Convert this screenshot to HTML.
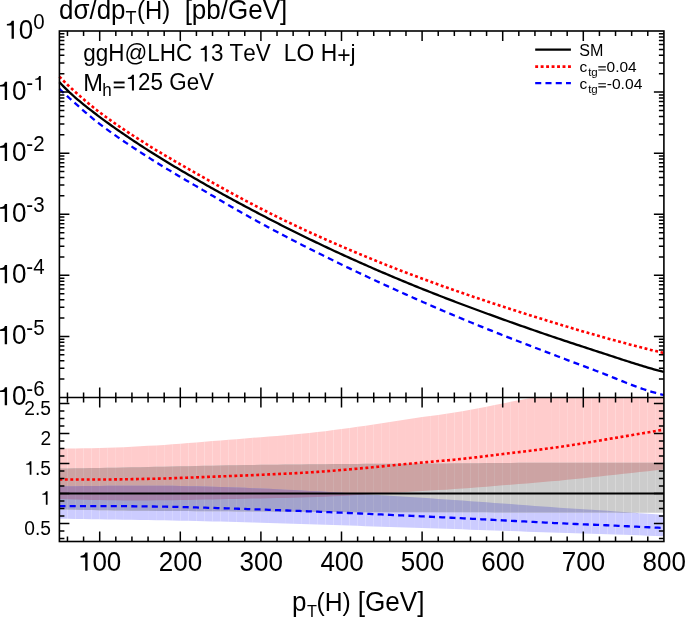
<!DOCTYPE html>
<html><head><meta charset="utf-8"><style>
html,body{margin:0;padding:0;background:#fff;}
body{width:685px;height:617px;overflow:hidden;}
svg{display:block;will-change:transform;}
text{font-family:"Liberation Sans", sans-serif;fill:#000;font-kerning:none;}
</style></head><body>
<svg width="685" height="617" viewBox="0 0 685 617">
<rect width="685" height="617" fill="#fff"/>
<g>
<g fill="#ffcccc"><path d="M59.40 448.67L67.46 448.56L67.46 499.35L59.40 499.12Z"/><path d="M67.46 448.56L75.52 448.44L75.52 499.57L67.46 499.35Z"/><path d="M75.52 448.44L83.58 448.29L83.58 499.76L75.52 499.57Z"/><path d="M83.58 448.29L91.64 448.14L91.64 499.94L83.58 499.76Z"/><path d="M91.64 448.14L99.70 447.96L99.70 500.10L91.64 499.94Z"/><path d="M99.70 447.96L107.76 447.78L107.76 500.23L99.70 500.10Z"/><path d="M107.76 447.78L115.82 447.51L115.82 500.33L107.76 500.23Z"/><path d="M115.82 447.51L123.88 447.17L123.88 500.38L115.82 500.33Z"/><path d="M123.88 447.17L131.94 446.77L131.94 500.41L123.88 500.38Z"/><path d="M131.94 446.77L140.00 446.33L140.00 500.40L131.94 500.41Z"/><path d="M140.00 446.33L148.06 445.87L148.06 500.38L140.00 500.40Z"/><path d="M148.06 445.87L156.12 445.40L156.12 500.35L148.06 500.38Z"/><path d="M156.12 445.40L164.18 444.92L164.18 500.29L156.12 500.35Z"/><path d="M164.18 444.92L172.24 444.36L172.24 500.19L164.18 500.29Z"/><path d="M172.24 444.36L180.30 443.74L180.30 500.06L172.24 500.19Z"/><path d="M180.30 443.74L188.36 443.08L188.36 499.91L180.30 500.06Z"/><path d="M188.36 443.08L196.42 442.41L196.42 499.74L188.36 499.91Z"/><path d="M196.42 442.41L204.48 441.73L204.48 499.58L196.42 499.74Z"/><path d="M204.48 441.73L212.54 441.08L212.54 499.42L204.48 499.58Z"/><path d="M212.54 441.08L220.60 440.43L220.60 499.27L212.54 499.42Z"/><path d="M220.60 440.43L228.66 439.78L228.66 499.10L220.60 499.27Z"/><path d="M228.66 439.78L236.72 439.13L236.72 498.94L228.66 499.10Z"/><path d="M236.72 439.13L244.78 438.48L244.78 498.77L236.72 498.94Z"/><path d="M244.78 438.48L252.84 437.83L252.84 498.59L244.78 498.77Z"/><path d="M252.84 437.83L260.90 437.17L260.90 498.42L252.84 498.59Z"/><path d="M260.90 437.17L268.96 436.53L268.96 498.25L260.90 498.42Z"/><path d="M268.96 436.53L277.02 435.88L277.02 498.08L268.96 498.25Z"/><path d="M277.02 435.88L285.08 435.22L285.08 497.90L277.02 498.08Z"/><path d="M285.08 435.22L293.14 434.52L293.14 497.71L285.08 497.90Z"/><path d="M293.14 434.52L301.20 433.78L301.20 497.50L293.14 497.71Z"/><path d="M301.20 433.78L309.26 432.99L309.26 497.26L301.20 497.50Z"/><path d="M309.26 432.99L317.32 432.11L317.32 496.98L309.26 497.26Z"/><path d="M317.32 432.11L325.38 431.14L325.38 496.65L317.32 496.98Z"/><path d="M325.38 431.14L333.44 430.11L333.44 496.28L325.38 496.65Z"/><path d="M333.44 430.11L341.50 429.03L341.50 495.89L333.44 496.28Z"/><path d="M341.50 429.03L349.56 427.92L349.56 495.46L341.50 495.89Z"/><path d="M349.56 427.92L357.62 426.80L357.62 495.02L349.56 495.46Z"/><path d="M357.62 426.80L365.68 425.65L365.68 494.56L357.62 495.02Z"/><path d="M365.68 425.65L373.74 424.43L373.74 494.06L365.68 494.56Z"/><path d="M373.74 424.43L381.80 423.18L381.80 493.55L373.74 494.06Z"/><path d="M381.80 423.18L389.86 421.92L389.86 493.02L381.80 493.55Z"/><path d="M389.86 421.92L397.92 420.66L397.92 492.49L389.86 493.02Z"/><path d="M397.92 420.66L405.98 419.43L405.98 491.98L397.92 492.49Z"/><path d="M405.98 419.43L414.04 418.25L414.04 491.49L405.98 491.98Z"/><path d="M414.04 418.25L422.10 417.12L422.10 491.03L414.04 491.49Z"/><path d="M422.10 417.12L430.16 416.02L430.16 490.57L422.10 491.03Z"/><path d="M430.16 416.02L438.22 414.90L438.22 490.11L430.16 490.57Z"/><path d="M438.22 414.90L446.28 413.74L446.28 489.63L438.22 490.11Z"/><path d="M446.28 413.74L454.34 412.51L454.34 489.12L446.28 489.63Z"/><path d="M454.34 412.51L462.40 411.18L462.40 488.57L454.34 489.12Z"/><path d="M462.40 411.18L470.46 409.73L470.46 487.98L462.40 488.57Z"/><path d="M470.46 409.73L478.52 408.21L478.52 487.36L470.46 487.98Z"/><path d="M478.52 408.21L486.58 406.63L486.58 486.70L478.52 487.36Z"/><path d="M486.58 406.63L494.64 405.02L494.64 486.04L486.58 486.70Z"/><path d="M494.64 405.02L502.70 403.42L502.70 485.37L494.64 486.04Z"/><path d="M502.70 403.42L510.76 401.84L510.76 484.71L502.70 485.37Z"/><path d="M510.76 401.84L518.82 400.29L518.82 484.06L510.76 484.71Z"/><path d="M518.82 400.29L526.88 398.73L526.88 483.41L518.82 484.06Z"/><path d="M526.88 398.73L534.94 397.50L534.94 482.75L526.88 483.41Z"/><path d="M534.94 397.50L543.00 397.50L543.00 482.07L534.94 482.75Z"/><path d="M543.00 397.50L551.06 397.50L551.06 481.37L543.00 482.07Z"/><path d="M551.06 397.50L559.12 397.50L559.12 480.63L551.06 481.37Z"/><path d="M559.12 397.50L567.18 397.50L567.18 479.85L559.12 480.63Z"/><path d="M567.18 397.50L575.24 397.50L575.24 479.02L567.18 479.85Z"/><path d="M575.24 397.50L583.30 397.50L583.30 478.17L575.24 479.02Z"/><path d="M583.30 397.50L591.36 397.50L591.36 477.30L583.30 478.17Z"/><path d="M591.36 397.50L599.42 397.50L599.42 476.43L591.36 477.30Z"/><path d="M599.42 397.50L607.48 397.50L607.48 475.56L599.42 476.43Z"/><path d="M607.48 397.50L615.54 397.50L615.54 474.70L607.48 475.56Z"/><path d="M615.54 397.50L623.60 397.50L623.60 473.84L615.54 474.70Z"/><path d="M623.60 397.50L631.66 397.50L631.66 472.98L623.60 473.84Z"/><path d="M631.66 397.50L639.72 397.50L639.72 472.12L631.66 472.98Z"/><path d="M639.72 397.50L647.78 397.50L647.78 471.25L639.72 472.12Z"/><path d="M647.78 397.50L655.84 397.50L655.84 470.37L647.78 471.25Z"/><path d="M655.84 397.50L663.90 397.50L663.90 469.50L655.84 470.37Z"/></g>
<g fill="#ccccff"><path d="M59.40 486.33L67.46 486.27L67.46 518.81L59.40 518.66Z"/><path d="M67.46 486.27L75.52 486.19L75.52 518.95L67.46 518.81Z"/><path d="M75.52 486.19L83.58 486.11L83.58 519.08L75.52 518.95Z"/><path d="M83.58 486.11L91.64 486.02L91.64 519.20L83.58 519.08Z"/><path d="M91.64 486.02L99.70 485.93L99.70 519.31L91.64 519.20Z"/><path d="M99.70 485.93L107.76 485.83L107.76 519.40L99.70 519.31Z"/><path d="M107.76 485.83L115.82 485.75L115.82 519.51L107.76 519.40Z"/><path d="M115.82 485.75L123.88 485.70L123.88 519.63L115.82 519.51Z"/><path d="M123.88 485.70L131.94 485.67L131.94 519.76L123.88 519.63Z"/><path d="M131.94 485.67L140.00 485.66L140.00 519.89L131.94 519.76Z"/><path d="M140.00 485.66L148.06 485.67L148.06 520.03L140.00 519.89Z"/><path d="M148.06 485.67L156.12 485.69L156.12 520.16L148.06 520.03Z"/><path d="M156.12 485.69L164.18 485.74L164.18 520.29L156.12 520.16Z"/><path d="M164.18 485.74L172.24 485.84L172.24 520.45L164.18 520.29Z"/><path d="M172.24 485.84L180.30 485.98L180.30 520.63L172.24 520.45Z"/><path d="M180.30 485.98L188.36 486.15L188.36 520.81L180.30 520.63Z"/><path d="M188.36 486.15L196.42 486.35L196.42 521.01L188.36 520.81Z"/><path d="M196.42 486.35L204.48 486.55L204.48 521.20L196.42 521.01Z"/><path d="M204.48 486.55L212.54 486.75L212.54 521.39L204.48 521.20Z"/><path d="M212.54 486.75L220.60 486.98L220.60 521.59L212.54 521.39Z"/><path d="M220.60 486.98L228.66 487.24L228.66 521.81L220.60 521.59Z"/><path d="M228.66 487.24L236.72 487.52L236.72 522.02L228.66 521.81Z"/><path d="M236.72 487.52L244.78 487.82L244.78 522.25L236.72 522.02Z"/><path d="M244.78 487.82L252.84 488.15L252.84 522.48L244.78 522.25Z"/><path d="M252.84 488.15L260.90 488.49L260.90 522.72L252.84 522.48Z"/><path d="M260.90 488.49L268.96 488.85L268.96 522.96L260.90 522.72Z"/><path d="M268.96 488.85L277.02 489.23L277.02 523.22L268.96 522.96Z"/><path d="M277.02 489.23L285.08 489.63L285.08 523.48L277.02 523.22Z"/><path d="M285.08 489.63L293.14 490.04L293.14 523.74L285.08 523.48Z"/><path d="M293.14 490.04L301.20 490.45L301.20 524.01L293.14 523.74Z"/><path d="M301.20 490.45L309.26 490.88L309.26 524.28L301.20 524.01Z"/><path d="M309.26 490.88L317.32 491.31L317.32 524.55L309.26 524.28Z"/><path d="M317.32 491.31L325.38 491.76L325.38 524.81L317.32 524.55Z"/><path d="M325.38 491.76L333.44 492.22L333.44 525.08L325.38 524.81Z"/><path d="M333.44 492.22L341.50 492.68L341.50 525.35L333.44 525.08Z"/><path d="M341.50 492.68L349.56 493.15L349.56 525.61L341.50 525.35Z"/><path d="M349.56 493.15L357.62 493.64L357.62 525.87L349.56 525.61Z"/><path d="M357.62 493.64L365.68 494.13L365.68 526.13L357.62 525.87Z"/><path d="M365.68 494.13L373.74 494.64L373.74 526.39L365.68 526.13Z"/><path d="M373.74 494.64L381.80 495.15L381.80 526.66L373.74 526.39Z"/><path d="M381.80 495.15L389.86 495.68L389.86 526.92L381.80 526.66Z"/><path d="M389.86 495.68L397.92 496.21L397.92 527.19L389.86 526.92Z"/><path d="M397.92 496.21L405.98 496.74L405.98 527.46L397.92 527.19Z"/><path d="M405.98 496.74L414.04 497.28L414.04 527.72L405.98 527.46Z"/><path d="M414.04 497.28L422.10 497.82L422.10 527.99L414.04 527.72Z"/><path d="M422.10 497.82L430.16 498.37L430.16 528.26L422.10 527.99Z"/><path d="M430.16 498.37L438.22 498.92L438.22 528.54L430.16 528.26Z"/><path d="M438.22 498.92L446.28 499.48L446.28 528.81L438.22 528.54Z"/><path d="M446.28 499.48L454.34 500.04L454.34 529.09L446.28 528.81Z"/><path d="M454.34 500.04L462.40 500.60L462.40 529.37L454.34 529.09Z"/><path d="M462.40 500.60L470.46 501.16L470.46 529.65L462.40 529.37Z"/><path d="M470.46 501.16L478.52 501.73L478.52 529.93L470.46 529.65Z"/><path d="M478.52 501.73L486.58 502.30L486.58 530.22L478.52 529.93Z"/><path d="M486.58 502.30L494.64 502.88L494.64 530.50L486.58 530.22Z"/><path d="M494.64 502.88L502.70 503.46L502.70 530.79L494.64 530.50Z"/><path d="M502.70 503.46L510.76 504.06L510.76 531.07L502.70 530.79Z"/><path d="M510.76 504.06L518.82 504.66L518.82 531.37L510.76 531.07Z"/><path d="M518.82 504.66L526.88 505.28L526.88 531.66L518.82 531.37Z"/><path d="M526.88 505.28L534.94 505.90L534.94 531.96L526.88 531.66Z"/><path d="M534.94 505.90L543.00 506.52L543.00 532.26L534.94 531.96Z"/><path d="M543.00 506.52L551.06 507.12L551.06 532.54L543.00 532.26Z"/><path d="M551.06 507.12L559.12 507.71L559.12 532.81L551.06 532.54Z"/><path d="M559.12 507.71L567.18 508.26L567.18 533.07L559.12 532.81Z"/><path d="M567.18 508.26L575.24 508.78L575.24 533.32L567.18 533.07Z"/><path d="M575.24 508.78L583.30 509.29L583.30 533.56L575.24 533.32Z"/><path d="M583.30 509.29L591.36 509.80L591.36 533.80L583.30 533.56Z"/><path d="M591.36 509.80L599.42 510.32L599.42 534.04L591.36 533.80Z"/><path d="M599.42 510.32L607.48 510.85L607.48 534.29L599.42 534.04Z"/><path d="M607.48 510.85L615.54 511.40L615.54 534.55L607.48 534.29Z"/><path d="M615.54 511.40L623.60 511.96L623.60 534.82L615.54 534.55Z"/><path d="M623.60 511.96L631.66 512.54L631.66 535.09L623.60 534.82Z"/><path d="M631.66 512.54L639.72 513.13L639.72 535.36L631.66 535.09Z"/><path d="M639.72 513.13L647.78 513.72L647.78 535.64L639.72 535.36Z"/><path d="M647.78 513.72L655.84 514.33L655.84 535.92L647.78 535.64Z"/><path d="M655.84 514.33L663.90 514.94L663.90 536.21L655.84 535.92Z"/></g>
<g fill="#cccccc"><path d="M59.40 468.48L67.46 468.40L67.46 509.59L59.40 509.40Z"/><path d="M67.46 468.40L75.52 468.30L75.52 509.76L67.46 509.59Z"/><path d="M75.52 468.30L83.58 468.20L83.58 509.93L75.52 509.76Z"/><path d="M83.58 468.20L91.64 468.08L91.64 510.08L83.58 509.93Z"/><path d="M91.64 468.08L99.70 467.96L99.70 510.22L91.64 510.08Z"/><path d="M99.70 467.96L107.76 467.83L107.76 510.34L99.70 510.22Z"/><path d="M107.76 467.83L115.82 467.69L115.82 510.45L107.76 510.34Z"/><path d="M115.82 467.69L123.88 467.53L123.88 510.55L115.82 510.45Z"/><path d="M123.88 467.53L131.94 467.36L131.94 510.65L123.88 510.55Z"/><path d="M131.94 467.36L140.00 467.18L140.00 510.73L131.94 510.65Z"/><path d="M140.00 467.18L148.06 467.01L148.06 510.81L140.00 510.73Z"/><path d="M148.06 467.01L156.12 466.84L156.12 510.88L148.06 510.81Z"/><path d="M156.12 466.84L164.18 466.68L164.18 510.95L156.12 510.88Z"/><path d="M164.18 466.68L172.24 466.51L172.24 511.01L164.18 510.95Z"/><path d="M172.24 466.51L180.30 466.34L180.30 511.06L172.24 511.01Z"/><path d="M180.30 466.34L188.36 466.17L188.36 511.11L180.30 511.06Z"/><path d="M188.36 466.17L196.42 465.99L196.42 511.16L188.36 511.11Z"/><path d="M196.42 465.99L204.48 465.83L204.48 511.20L196.42 511.16Z"/><path d="M204.48 465.83L212.54 465.66L212.54 511.25L204.48 511.20Z"/><path d="M212.54 465.66L220.60 465.50L220.60 511.29L212.54 511.25Z"/><path d="M220.60 465.50L228.66 465.35L228.66 511.33L220.60 511.29Z"/><path d="M228.66 465.35L236.72 465.20L236.72 511.38L228.66 511.33Z"/><path d="M236.72 465.20L244.78 465.07L244.78 511.42L236.72 511.38Z"/><path d="M244.78 465.07L252.84 464.95L252.84 511.47L244.78 511.42Z"/><path d="M252.84 464.95L260.90 464.84L260.90 511.52L252.84 511.47Z"/><path d="M260.90 464.84L268.96 464.74L268.96 511.57L260.90 511.52Z"/><path d="M268.96 464.74L277.02 464.65L277.02 511.63L268.96 511.57Z"/><path d="M277.02 464.65L285.08 464.56L285.08 511.69L277.02 511.63Z"/><path d="M285.08 464.56L293.14 464.48L293.14 511.76L285.08 511.69Z"/><path d="M293.14 464.48L301.20 464.40L301.20 511.82L293.14 511.76Z"/><path d="M301.20 464.40L309.26 464.32L309.26 511.88L301.20 511.82Z"/><path d="M309.26 464.32L317.32 464.24L317.32 511.94L309.26 511.88Z"/><path d="M317.32 464.24L325.38 464.17L325.38 512.00L317.32 511.94Z"/><path d="M325.38 464.17L333.44 464.11L333.44 512.05L325.38 512.00Z"/><path d="M333.44 464.11L341.50 464.04L341.50 512.09L333.44 512.05Z"/><path d="M341.50 464.04L349.56 463.98L349.56 512.13L341.50 512.09Z"/><path d="M349.56 463.98L357.62 463.92L357.62 512.16L349.56 512.13Z"/><path d="M357.62 463.92L365.68 463.87L365.68 512.18L357.62 512.16Z"/><path d="M365.68 463.87L373.74 463.82L373.74 512.20L365.68 512.18Z"/><path d="M373.74 463.82L381.80 463.77L381.80 512.22L373.74 512.20Z"/><path d="M381.80 463.77L389.86 463.72L389.86 512.24L381.80 512.22Z"/><path d="M389.86 463.72L397.92 463.68L397.92 512.25L389.86 512.24Z"/><path d="M397.92 463.68L405.98 463.63L405.98 512.26L397.92 512.25Z"/><path d="M405.98 463.63L414.04 463.58L414.04 512.28L405.98 512.26Z"/><path d="M414.04 463.58L422.10 463.54L422.10 512.29L414.04 512.28Z"/><path d="M422.10 463.54L430.16 463.49L430.16 512.30L422.10 512.29Z"/><path d="M430.16 463.49L438.22 463.45L438.22 512.31L430.16 512.30Z"/><path d="M438.22 463.45L446.28 463.40L446.28 512.32L438.22 512.31Z"/><path d="M446.28 463.40L454.34 463.35L454.34 512.33L446.28 512.32Z"/><path d="M454.34 463.35L462.40 463.29L462.40 512.35L454.34 512.33Z"/><path d="M462.40 463.29L470.46 463.22L470.46 512.36L462.40 512.35Z"/><path d="M470.46 463.22L478.52 463.15L478.52 512.37L470.46 512.36Z"/><path d="M478.52 463.15L486.58 463.07L486.58 512.37L478.52 512.37Z"/><path d="M486.58 463.07L494.64 463.00L494.64 512.38L486.58 512.37Z"/><path d="M494.64 463.00L502.70 462.94L502.70 512.39L494.64 512.38Z"/><path d="M502.70 462.94L510.76 462.88L510.76 512.40L502.70 512.39Z"/><path d="M510.76 462.88L518.82 462.83L518.82 512.41L510.76 512.40Z"/><path d="M518.82 462.83L526.88 462.78L526.88 512.42L518.82 512.41Z"/><path d="M526.88 462.78L534.94 462.73L534.94 512.43L526.88 512.42Z"/><path d="M534.94 462.73L543.00 462.69L543.00 512.44L534.94 512.43Z"/><path d="M543.00 462.69L551.06 462.67L551.06 512.45L543.00 512.44Z"/><path d="M551.06 462.67L559.12 462.66L559.12 512.46L551.06 512.45Z"/><path d="M559.12 462.66L567.18 462.66L567.18 512.48L559.12 512.46Z"/><path d="M567.18 462.66L575.24 462.66L575.24 512.50L567.18 512.48Z"/><path d="M575.24 462.66L583.30 462.66L583.30 512.52L575.24 512.50Z"/><path d="M583.30 462.66L591.36 462.66L591.36 512.54L583.30 512.52Z"/><path d="M591.36 462.66L599.42 462.67L599.42 512.56L591.36 512.54Z"/><path d="M599.42 462.67L607.48 462.67L607.48 512.59L599.42 512.56Z"/><path d="M607.48 462.67L615.54 462.68L615.54 512.62L607.48 512.59Z"/><path d="M615.54 462.68L623.60 462.69L623.60 512.65L615.54 512.62Z"/><path d="M623.60 462.69L631.66 462.70L631.66 512.68L623.60 512.65Z"/><path d="M631.66 462.70L639.72 462.72L639.72 512.71L631.66 512.68Z"/><path d="M639.72 462.72L647.78 462.73L647.78 512.75L639.72 512.71Z"/><path d="M647.78 462.73L655.84 462.75L655.84 512.78L647.78 512.75Z"/><path d="M655.84 462.75L663.90 462.78L663.90 512.82L655.84 512.78Z"/></g>
<g fill="rgb(204,163,163)"><path d="M59.40 468.48L67.46 468.40L67.46 499.35L59.40 499.12Z"/><path d="M67.46 468.40L75.52 468.30L75.52 499.57L67.46 499.35Z"/><path d="M75.52 468.30L83.58 468.20L83.58 499.76L75.52 499.57Z"/><path d="M83.58 468.20L91.64 468.08L91.64 499.94L83.58 499.76Z"/><path d="M91.64 468.08L99.70 467.96L99.70 500.10L91.64 499.94Z"/><path d="M99.70 467.96L107.76 467.83L107.76 500.23L99.70 500.10Z"/><path d="M107.76 467.83L115.82 467.69L115.82 500.33L107.76 500.23Z"/><path d="M115.82 467.69L123.88 467.53L123.88 500.38L115.82 500.33Z"/><path d="M123.88 467.53L131.94 467.36L131.94 500.41L123.88 500.38Z"/><path d="M131.94 467.36L140.00 467.18L140.00 500.40L131.94 500.41Z"/><path d="M140.00 467.18L148.06 467.01L148.06 500.38L140.00 500.40Z"/><path d="M148.06 467.01L156.12 466.84L156.12 500.35L148.06 500.38Z"/><path d="M156.12 466.84L164.18 466.68L164.18 500.29L156.12 500.35Z"/><path d="M164.18 466.68L172.24 466.51L172.24 500.19L164.18 500.29Z"/><path d="M172.24 466.51L180.30 466.34L180.30 500.06L172.24 500.19Z"/><path d="M180.30 466.34L188.36 466.17L188.36 499.91L180.30 500.06Z"/><path d="M188.36 466.17L196.42 465.99L196.42 499.74L188.36 499.91Z"/><path d="M196.42 465.99L204.48 465.83L204.48 499.58L196.42 499.74Z"/><path d="M204.48 465.83L212.54 465.66L212.54 499.42L204.48 499.58Z"/><path d="M212.54 465.66L220.60 465.50L220.60 499.27L212.54 499.42Z"/><path d="M220.60 465.50L228.66 465.35L228.66 499.10L220.60 499.27Z"/><path d="M228.66 465.35L236.72 465.20L236.72 498.94L228.66 499.10Z"/><path d="M236.72 465.20L244.78 465.07L244.78 498.77L236.72 498.94Z"/><path d="M244.78 465.07L252.84 464.95L252.84 498.59L244.78 498.77Z"/><path d="M252.84 464.95L260.90 464.84L260.90 498.42L252.84 498.59Z"/><path d="M260.90 464.84L268.96 464.74L268.96 498.25L260.90 498.42Z"/><path d="M268.96 464.74L277.02 464.65L277.02 498.08L268.96 498.25Z"/><path d="M277.02 464.65L285.08 464.56L285.08 497.90L277.02 498.08Z"/><path d="M285.08 464.56L293.14 464.48L293.14 497.71L285.08 497.90Z"/><path d="M293.14 464.48L301.20 464.40L301.20 497.50L293.14 497.71Z"/><path d="M301.20 464.40L309.26 464.32L309.26 497.26L301.20 497.50Z"/><path d="M309.26 464.32L317.32 464.24L317.32 496.98L309.26 497.26Z"/><path d="M317.32 464.24L325.38 464.17L325.38 496.65L317.32 496.98Z"/><path d="M325.38 464.17L333.44 464.11L333.44 496.28L325.38 496.65Z"/><path d="M333.44 464.11L341.50 464.04L341.50 495.89L333.44 496.28Z"/><path d="M341.50 464.04L349.56 463.98L349.56 495.46L341.50 495.89Z"/><path d="M349.56 463.98L357.62 463.92L357.62 495.02L349.56 495.46Z"/><path d="M357.62 463.92L365.68 463.87L365.68 494.56L357.62 495.02Z"/><path d="M365.68 463.87L373.74 463.82L373.74 494.06L365.68 494.56Z"/><path d="M373.74 463.82L381.80 463.77L381.80 493.55L373.74 494.06Z"/><path d="M381.80 463.77L389.86 463.72L389.86 493.02L381.80 493.55Z"/><path d="M389.86 463.72L397.92 463.68L397.92 492.49L389.86 493.02Z"/><path d="M397.92 463.68L405.98 463.63L405.98 491.98L397.92 492.49Z"/><path d="M405.98 463.63L414.04 463.58L414.04 491.49L405.98 491.98Z"/><path d="M414.04 463.58L422.10 463.54L422.10 491.03L414.04 491.49Z"/><path d="M422.10 463.54L430.16 463.49L430.16 490.57L422.10 491.03Z"/><path d="M430.16 463.49L438.22 463.45L438.22 490.11L430.16 490.57Z"/><path d="M438.22 463.45L446.28 463.40L446.28 489.63L438.22 490.11Z"/><path d="M446.28 463.40L454.34 463.35L454.34 489.12L446.28 489.63Z"/><path d="M454.34 463.35L462.40 463.29L462.40 488.57L454.34 489.12Z"/><path d="M462.40 463.29L470.46 463.22L470.46 487.98L462.40 488.57Z"/><path d="M470.46 463.22L478.52 463.15L478.52 487.36L470.46 487.98Z"/><path d="M478.52 463.15L486.58 463.07L486.58 486.70L478.52 487.36Z"/><path d="M486.58 463.07L494.64 463.00L494.64 486.04L486.58 486.70Z"/><path d="M494.64 463.00L502.70 462.94L502.70 485.37L494.64 486.04Z"/><path d="M502.70 462.94L510.76 462.88L510.76 484.71L502.70 485.37Z"/><path d="M510.76 462.88L518.82 462.83L518.82 484.06L510.76 484.71Z"/><path d="M518.82 462.83L526.88 462.78L526.88 483.41L518.82 484.06Z"/><path d="M526.88 462.78L534.94 462.73L534.94 482.75L526.88 483.41Z"/><path d="M534.94 462.73L543.00 462.69L543.00 482.07L534.94 482.75Z"/><path d="M543.00 462.69L551.06 462.67L551.06 481.37L543.00 482.07Z"/><path d="M551.06 462.67L559.12 462.66L559.12 480.63L551.06 481.37Z"/><path d="M559.12 462.66L567.18 462.66L567.18 479.85L559.12 480.63Z"/><path d="M567.18 462.66L575.24 462.66L575.24 479.02L567.18 479.85Z"/><path d="M575.24 462.66L583.30 462.66L583.30 478.17L575.24 479.02Z"/><path d="M583.30 462.66L591.36 462.66L591.36 477.30L583.30 478.17Z"/><path d="M591.36 462.66L599.42 462.67L599.42 476.43L591.36 477.30Z"/><path d="M599.42 462.67L607.48 462.67L607.48 475.56L599.42 476.43Z"/><path d="M607.48 462.67L615.54 462.68L615.54 474.70L607.48 475.56Z"/><path d="M615.54 462.68L623.60 462.69L623.60 473.84L615.54 474.70Z"/><path d="M623.60 462.69L631.66 462.70L631.66 472.98L623.60 473.84Z"/><path d="M631.66 462.70L639.72 462.72L639.72 472.12L631.66 472.98Z"/><path d="M639.72 462.72L647.78 462.73L647.78 471.25L639.72 472.12Z"/><path d="M647.78 462.73L655.84 462.75L655.84 470.37L647.78 471.25Z"/><path d="M655.84 462.75L663.90 462.78L663.90 469.50L655.84 470.37Z"/></g>
<g fill="rgb(163,163,204)"><path d="M59.40 486.33L67.46 486.27L67.46 509.59L59.40 509.40Z"/><path d="M67.46 486.27L75.52 486.19L75.52 509.76L67.46 509.59Z"/><path d="M75.52 486.19L83.58 486.11L83.58 509.93L75.52 509.76Z"/><path d="M83.58 486.11L91.64 486.02L91.64 510.08L83.58 509.93Z"/><path d="M91.64 486.02L99.70 485.93L99.70 510.22L91.64 510.08Z"/><path d="M99.70 485.93L107.76 485.83L107.76 510.34L99.70 510.22Z"/><path d="M107.76 485.83L115.82 485.75L115.82 510.45L107.76 510.34Z"/><path d="M115.82 485.75L123.88 485.70L123.88 510.55L115.82 510.45Z"/><path d="M123.88 485.70L131.94 485.67L131.94 510.65L123.88 510.55Z"/><path d="M131.94 485.67L140.00 485.66L140.00 510.73L131.94 510.65Z"/><path d="M140.00 485.66L148.06 485.67L148.06 510.81L140.00 510.73Z"/><path d="M148.06 485.67L156.12 485.69L156.12 510.88L148.06 510.81Z"/><path d="M156.12 485.69L164.18 485.74L164.18 510.95L156.12 510.88Z"/><path d="M164.18 485.74L172.24 485.84L172.24 511.01L164.18 510.95Z"/><path d="M172.24 485.84L180.30 485.98L180.30 511.06L172.24 511.01Z"/><path d="M180.30 485.98L188.36 486.15L188.36 511.11L180.30 511.06Z"/><path d="M188.36 486.15L196.42 486.35L196.42 511.16L188.36 511.11Z"/><path d="M196.42 486.35L204.48 486.55L204.48 511.20L196.42 511.16Z"/><path d="M204.48 486.55L212.54 486.75L212.54 511.25L204.48 511.20Z"/><path d="M212.54 486.75L220.60 486.98L220.60 511.29L212.54 511.25Z"/><path d="M220.60 486.98L228.66 487.24L228.66 511.33L220.60 511.29Z"/><path d="M228.66 487.24L236.72 487.52L236.72 511.38L228.66 511.33Z"/><path d="M236.72 487.52L244.78 487.82L244.78 511.42L236.72 511.38Z"/><path d="M244.78 487.82L252.84 488.15L252.84 511.47L244.78 511.42Z"/><path d="M252.84 488.15L260.90 488.49L260.90 511.52L252.84 511.47Z"/><path d="M260.90 488.49L268.96 488.85L268.96 511.57L260.90 511.52Z"/><path d="M268.96 488.85L277.02 489.23L277.02 511.63L268.96 511.57Z"/><path d="M277.02 489.23L285.08 489.63L285.08 511.69L277.02 511.63Z"/><path d="M285.08 489.63L293.14 490.04L293.14 511.76L285.08 511.69Z"/><path d="M293.14 490.04L301.20 490.45L301.20 511.82L293.14 511.76Z"/><path d="M301.20 490.45L309.26 490.88L309.26 511.88L301.20 511.82Z"/><path d="M309.26 490.88L317.32 491.31L317.32 511.94L309.26 511.88Z"/><path d="M317.32 491.31L325.38 491.76L325.38 512.00L317.32 511.94Z"/><path d="M325.38 491.76L333.44 492.22L333.44 512.05L325.38 512.00Z"/><path d="M333.44 492.22L341.50 492.68L341.50 512.09L333.44 512.05Z"/><path d="M341.50 492.68L349.56 493.15L349.56 512.13L341.50 512.09Z"/><path d="M349.56 493.15L357.62 493.64L357.62 512.16L349.56 512.13Z"/><path d="M357.62 493.64L365.68 494.13L365.68 512.18L357.62 512.16Z"/><path d="M365.68 494.13L373.74 494.64L373.74 512.20L365.68 512.18Z"/><path d="M373.74 494.64L381.80 495.15L381.80 512.22L373.74 512.20Z"/><path d="M381.80 495.15L389.86 495.68L389.86 512.24L381.80 512.22Z"/><path d="M389.86 495.68L397.92 496.21L397.92 512.25L389.86 512.24Z"/><path d="M397.92 496.21L405.98 496.74L405.98 512.26L397.92 512.25Z"/><path d="M405.98 496.74L414.04 497.28L414.04 512.28L405.98 512.26Z"/><path d="M414.04 497.28L422.10 497.82L422.10 512.29L414.04 512.28Z"/><path d="M422.10 497.82L430.16 498.37L430.16 512.30L422.10 512.29Z"/><path d="M430.16 498.37L438.22 498.92L438.22 512.31L430.16 512.30Z"/><path d="M438.22 498.92L446.28 499.48L446.28 512.32L438.22 512.31Z"/><path d="M446.28 499.48L454.34 500.04L454.34 512.33L446.28 512.32Z"/><path d="M454.34 500.04L462.40 500.60L462.40 512.35L454.34 512.33Z"/><path d="M462.40 500.60L470.46 501.16L470.46 512.36L462.40 512.35Z"/><path d="M470.46 501.16L478.52 501.73L478.52 512.37L470.46 512.36Z"/><path d="M478.52 501.73L486.58 502.30L486.58 512.37L478.52 512.37Z"/><path d="M486.58 502.30L494.64 502.88L494.64 512.38L486.58 512.37Z"/><path d="M494.64 502.88L502.70 503.46L502.70 512.39L494.64 512.38Z"/><path d="M502.70 503.46L510.76 504.06L510.76 512.40L502.70 512.39Z"/><path d="M510.76 504.06L518.82 504.66L518.82 512.41L510.76 512.40Z"/><path d="M518.82 504.66L526.88 505.28L526.88 512.42L518.82 512.41Z"/><path d="M526.88 505.28L534.94 505.90L534.94 512.43L526.88 512.42Z"/><path d="M534.94 505.90L543.00 506.52L543.00 512.44L534.94 512.43Z"/><path d="M543.00 506.52L551.06 507.12L551.06 512.45L543.00 512.44Z"/><path d="M551.06 507.12L559.12 507.71L559.12 512.46L551.06 512.45Z"/><path d="M559.12 507.71L567.18 508.26L567.18 512.48L559.12 512.46Z"/><path d="M567.18 508.26L575.24 508.78L575.24 512.50L567.18 512.48Z"/><path d="M575.24 508.78L583.30 509.29L583.30 512.52L575.24 512.50Z"/><path d="M583.30 509.29L591.36 509.80L591.36 512.54L583.30 512.52Z"/><path d="M591.36 509.80L599.42 510.32L599.42 512.56L591.36 512.54Z"/><path d="M599.42 510.32L607.48 510.85L607.48 512.59L599.42 512.56Z"/><path d="M607.48 510.85L615.54 511.40L615.54 512.62L607.48 512.59Z"/><path d="M615.54 511.40L623.60 511.96L623.60 512.65L615.54 512.62Z"/><path d="M623.60 511.96L631.66 512.54L631.66 512.68L623.60 512.65Z"/><path d="M631.66 512.54L639.72 513.13L639.72 513.13L631.66 512.68Z"/></g>
<g fill="rgb(165,130,170)"><path d="M59.40 486.33L67.46 486.27L67.46 499.35L59.40 499.12Z"/><path d="M67.46 486.27L75.52 486.19L75.52 499.57L67.46 499.35Z"/><path d="M75.52 486.19L83.58 486.11L83.58 499.76L75.52 499.57Z"/><path d="M83.58 486.11L91.64 486.02L91.64 499.94L83.58 499.76Z"/><path d="M91.64 486.02L99.70 485.93L99.70 500.10L91.64 499.94Z"/><path d="M99.70 485.93L107.76 485.83L107.76 500.23L99.70 500.10Z"/><path d="M107.76 485.83L115.82 485.75L115.82 500.33L107.76 500.23Z"/><path d="M115.82 485.75L123.88 485.70L123.88 500.38L115.82 500.33Z"/><path d="M123.88 485.70L131.94 485.67L131.94 500.41L123.88 500.38Z"/><path d="M131.94 485.67L140.00 485.66L140.00 500.40L131.94 500.41Z"/><path d="M140.00 485.66L148.06 485.67L148.06 500.38L140.00 500.40Z"/><path d="M148.06 485.67L156.12 485.69L156.12 500.35L148.06 500.38Z"/><path d="M156.12 485.69L164.18 485.74L164.18 500.29L156.12 500.35Z"/><path d="M164.18 485.74L172.24 485.84L172.24 500.19L164.18 500.29Z"/><path d="M172.24 485.84L180.30 485.98L180.30 500.06L172.24 500.19Z"/><path d="M180.30 485.98L188.36 486.15L188.36 499.91L180.30 500.06Z"/><path d="M188.36 486.15L196.42 486.35L196.42 499.74L188.36 499.91Z"/><path d="M196.42 486.35L204.48 486.55L204.48 499.58L196.42 499.74Z"/><path d="M204.48 486.55L212.54 486.75L212.54 499.42L204.48 499.58Z"/><path d="M212.54 486.75L220.60 486.98L220.60 499.27L212.54 499.42Z"/><path d="M220.60 486.98L228.66 487.24L228.66 499.10L220.60 499.27Z"/><path d="M228.66 487.24L236.72 487.52L236.72 498.94L228.66 499.10Z"/><path d="M236.72 487.52L244.78 487.82L244.78 498.77L236.72 498.94Z"/><path d="M244.78 487.82L252.84 488.15L252.84 498.59L244.78 498.77Z"/><path d="M252.84 488.15L260.90 488.49L260.90 498.42L252.84 498.59Z"/><path d="M260.90 488.49L268.96 488.85L268.96 498.25L260.90 498.42Z"/><path d="M268.96 488.85L277.02 489.23L277.02 498.08L268.96 498.25Z"/><path d="M277.02 489.23L285.08 489.63L285.08 497.90L277.02 498.08Z"/><path d="M285.08 489.63L293.14 490.04L293.14 497.71L285.08 497.90Z"/><path d="M293.14 490.04L301.20 490.45L301.20 497.50L293.14 497.71Z"/><path d="M301.20 490.45L309.26 490.88L309.26 497.26L301.20 497.50Z"/><path d="M309.26 490.88L317.32 491.31L317.32 496.98L309.26 497.26Z"/><path d="M317.32 491.31L325.38 491.76L325.38 496.65L317.32 496.98Z"/><path d="M325.38 491.76L333.44 492.22L333.44 496.28L325.38 496.65Z"/><path d="M333.44 492.22L341.50 492.68L341.50 495.89L333.44 496.28Z"/><path d="M341.50 492.68L349.56 493.15L349.56 495.46L341.50 495.89Z"/><path d="M349.56 493.15L357.62 493.64L357.62 495.02L349.56 495.46Z"/><path d="M357.62 493.64L365.68 494.13L365.68 494.56L357.62 495.02Z"/><path d="M365.68 494.13L373.74 494.64L373.74 494.64L365.68 494.56Z"/></g>
</g>
<path d="M59.4 493.50H663.9" stroke="#000" stroke-width="2.2" fill="none"/>
<path d="M59.40 479.52L62.44 479.52L65.48 479.52L68.51 479.52L71.55 479.52L74.59 479.51L77.63 479.51L80.66 479.51L83.70 479.50L86.74 479.50L89.78 479.49L92.81 479.49L95.85 479.48L98.89 479.47L101.93 479.47L104.97 479.46L108.00 479.45L111.04 479.43L114.08 479.41L117.12 479.38L120.15 479.34L123.19 479.30L126.23 479.26L129.27 479.21L132.30 479.15L135.34 479.10L138.38 479.04L141.42 478.98L144.46 478.91L147.49 478.85L150.53 478.78L153.57 478.72L156.61 478.65L159.64 478.58L162.68 478.51L165.72 478.43L168.76 478.34L171.79 478.24L174.83 478.14L177.87 478.03L180.91 477.92L183.95 477.81L186.98 477.69L190.02 477.58L193.06 477.46L196.10 477.34L199.13 477.22L202.17 477.10L205.21 476.98L208.25 476.87L211.28 476.76L214.32 476.64L217.36 476.53L220.40 476.42L223.44 476.30L226.47 476.18L229.51 476.07L232.55 475.95L235.59 475.83L238.62 475.71L241.66 475.58L244.70 475.46L247.74 475.34L250.77 475.21L253.81 475.08L256.85 474.95L259.89 474.82L262.93 474.69L265.96 474.56L269.00 474.42L272.04 474.29L275.08 474.16L278.11 474.02L281.15 473.89L284.19 473.74L287.23 473.60L290.26 473.45L293.30 473.30L296.34 473.15L299.38 472.99L302.42 472.82L305.45 472.65L308.49 472.47L311.53 472.28L314.57 472.09L317.60 471.88L320.64 471.66L323.68 471.44L326.72 471.21L329.75 470.98L332.79 470.73L335.83 470.49L338.87 470.24L341.91 469.98L344.94 469.72L347.98 469.46L351.02 469.20L354.06 468.94L357.09 468.68L360.13 468.41L363.17 468.14L366.21 467.87L369.24 467.58L372.28 467.29L375.32 467.00L378.36 466.70L381.39 466.40L384.43 466.10L387.47 465.80L390.51 465.50L393.55 465.19L396.58 464.89L399.62 464.60L402.66 464.30L405.70 464.02L408.73 463.73L411.77 463.45L414.81 463.18L417.85 462.91L420.88 462.65L423.92 462.39L426.96 462.13L430.00 461.87L433.04 461.60L436.07 461.34L439.11 461.07L442.15 460.81L445.19 460.53L448.22 460.25L451.26 459.96L454.30 459.67L457.34 459.37L460.37 459.05L463.41 458.73L466.45 458.40L469.49 458.06L472.53 457.72L475.56 457.37L478.60 457.01L481.64 456.65L484.68 456.28L487.71 455.91L490.75 455.54L493.79 455.17L496.83 454.79L499.86 454.42L502.90 454.04L505.94 453.67L508.98 453.30L512.02 452.93L515.05 452.57L518.09 452.20L521.13 451.84L524.17 451.47L527.20 451.10L530.24 450.73L533.28 450.36L536.32 449.98L539.35 449.60L542.39 449.21L545.43 448.82L548.47 448.42L551.51 448.02L554.54 447.60L557.58 447.18L560.62 446.75L563.66 446.30L566.69 445.85L569.73 445.38L572.77 444.91L575.81 444.43L578.84 443.94L581.88 443.45L584.92 442.95L587.96 442.45L591.00 441.94L594.03 441.44L597.07 440.93L600.11 440.42L603.15 439.91L606.18 439.40L609.22 438.89L612.26 438.39L615.30 437.89L618.33 437.38L621.37 436.88L624.41 436.37L627.45 435.86L630.49 435.34L633.52 434.83L636.56 434.31L639.60 433.80L642.64 433.28L645.67 432.76L648.71 432.24L651.75 431.71L654.79 431.19L657.82 430.66L660.86 430.13L663.90 429.60" stroke="#f00" stroke-width="2.6" stroke-dasharray="2.9 2.57" fill="none"/>
<path d="M59.40 506.10L62.44 506.10L65.48 506.10L68.51 506.10L71.55 506.10L74.59 506.10L77.63 506.10L80.66 506.10L83.70 506.10L86.74 506.10L89.78 506.10L92.81 506.10L95.85 506.10L98.89 506.10L101.93 506.10L104.97 506.10L108.00 506.10L111.04 506.11L114.08 506.12L117.12 506.14L120.15 506.15L123.19 506.18L126.23 506.20L129.27 506.23L132.30 506.26L135.34 506.29L138.38 506.33L141.42 506.37L144.46 506.40L147.49 506.44L150.53 506.48L153.57 506.52L156.61 506.56L159.64 506.60L162.68 506.65L165.72 506.70L168.76 506.76L171.79 506.82L174.83 506.89L177.87 506.96L180.91 507.04L183.95 507.11L186.98 507.20L190.02 507.28L193.06 507.36L196.10 507.45L199.13 507.53L202.17 507.62L205.21 507.70L208.25 507.79L211.28 507.87L214.32 507.96L217.36 508.05L220.40 508.14L223.44 508.24L226.47 508.33L229.51 508.43L232.55 508.53L235.59 508.63L238.62 508.73L241.66 508.83L244.70 508.94L247.74 509.04L250.77 509.15L253.81 509.25L256.85 509.36L259.89 509.47L262.93 509.58L265.96 509.69L269.00 509.80L272.04 509.91L275.08 510.03L278.11 510.14L281.15 510.26L284.19 510.38L287.23 510.49L290.26 510.61L293.30 510.73L296.34 510.85L299.38 510.97L302.42 511.10L305.45 511.22L308.49 511.34L311.53 511.46L314.57 511.59L317.60 511.71L320.64 511.83L323.68 511.96L326.72 512.08L329.75 512.21L332.79 512.34L335.83 512.47L338.87 512.60L341.91 512.72L344.94 512.85L347.98 512.99L351.02 513.12L354.06 513.25L357.09 513.38L360.13 513.51L363.17 513.65L366.21 513.78L369.24 513.92L372.28 514.05L375.32 514.19L378.36 514.33L381.39 514.47L384.43 514.61L387.47 514.75L390.51 514.89L393.55 515.03L396.58 515.17L399.62 515.31L402.66 515.45L405.70 515.59L408.73 515.73L411.77 515.88L414.81 516.02L417.85 516.16L420.88 516.31L423.92 516.45L426.96 516.60L430.00 516.74L433.04 516.89L436.07 517.03L439.11 517.18L442.15 517.33L445.19 517.47L448.22 517.62L451.26 517.77L454.30 517.92L457.34 518.07L460.37 518.22L463.41 518.37L466.45 518.52L469.49 518.67L472.53 518.82L475.56 518.97L478.60 519.13L481.64 519.28L484.68 519.43L487.71 519.59L490.75 519.74L493.79 519.90L496.83 520.05L499.86 520.21L502.90 520.36L505.94 520.51L508.98 520.67L512.02 520.83L515.05 520.98L518.09 521.14L521.13 521.30L524.17 521.47L527.20 521.63L530.24 521.79L533.28 521.95L536.32 522.11L539.35 522.27L542.39 522.43L545.43 522.58L548.47 522.74L551.51 522.89L554.54 523.04L557.58 523.18L560.62 523.32L563.66 523.46L566.69 523.60L569.73 523.73L572.77 523.86L575.81 523.99L578.84 524.12L581.88 524.24L584.92 524.37L587.96 524.49L591.00 524.62L594.03 524.75L597.07 524.87L600.11 525.00L603.15 525.13L606.18 525.27L609.22 525.40L612.26 525.54L615.30 525.68L618.33 525.81L621.37 525.95L624.41 526.09L627.45 526.24L630.49 526.38L633.52 526.52L636.56 526.67L639.60 526.81L642.64 526.96L645.67 527.10L648.71 527.25L651.75 527.40L654.79 527.55L657.82 527.70L660.86 527.85L663.90 528.00" stroke="#00f" stroke-width="2.3" stroke-dasharray="6.05 4.22" fill="none"/>
<path d="M59.40 82.10L61.42 84.24L63.44 86.35L65.47 88.42L67.49 90.42L69.51 92.35L71.53 94.19L73.55 96.00L75.57 97.77L77.60 99.51L79.62 101.21L81.64 102.89L83.66 104.55L85.68 106.17L87.70 107.78L89.73 109.37L91.75 110.93L93.77 112.49L95.79 114.03L97.81 115.56L99.83 117.08L101.86 118.59L103.88 120.08L105.90 121.57L107.92 123.04L109.94 124.50L111.97 125.95L113.99 127.39L116.01 128.82L118.03 130.23L120.05 131.64L122.07 133.04L124.10 134.42L126.12 135.80L128.14 137.17L130.16 138.53L132.18 139.88L134.20 141.23L136.23 142.57L138.25 143.90L140.27 145.22L142.29 146.54L144.31 147.85L146.33 149.15L148.36 150.45L150.38 151.74L152.40 153.03L154.42 154.30L156.44 155.57L158.47 156.83L160.49 158.08L162.51 159.33L164.53 160.56L166.55 161.79L168.57 163.02L170.60 164.23L172.62 165.44L174.64 166.65L176.66 167.85L178.68 169.04L180.70 170.23L182.73 171.42L184.75 172.60L186.77 173.77L188.79 174.95L190.81 176.12L192.83 177.28L194.86 178.45L196.88 179.61L198.90 180.77L200.92 181.93L202.94 183.08L204.97 184.23L206.99 185.38L209.01 186.52L211.03 187.66L213.05 188.79L215.07 189.92L217.10 191.05L219.12 192.17L221.14 193.29L223.16 194.41L225.18 195.52L227.20 196.63L229.23 197.73L231.25 198.83L233.27 199.93L235.29 201.02L237.31 202.12L239.33 203.21L241.36 204.29L243.38 205.37L245.40 206.45L247.42 207.53L249.44 208.60L251.47 209.68L253.49 210.75L255.51 211.81L257.53 212.88L259.55 213.94L261.57 214.99L263.60 216.05L265.62 217.10L267.64 218.15L269.66 219.20L271.68 220.24L273.70 221.28L275.73 222.32L277.75 223.35L279.77 224.38L281.79 225.41L283.81 226.43L285.83 227.45L287.86 228.47L289.88 229.48L291.90 230.49L293.92 231.50L295.94 232.50L297.97 233.50L299.99 234.49L302.01 235.49L304.03 236.47L306.05 237.46L308.07 238.44L310.10 239.42L312.12 240.40L314.14 241.37L316.16 242.34L318.18 243.31L320.20 244.27L322.23 245.23L324.25 246.19L326.27 247.14L328.29 248.09L330.31 249.04L332.33 249.99L334.36 250.93L336.38 251.87L338.40 252.80L340.42 253.73L342.44 254.66L344.47 255.58L346.49 256.51L348.51 257.42L350.53 258.34L352.55 259.25L354.57 260.16L356.60 261.07L358.62 261.97L360.64 262.87L362.66 263.77L364.68 264.66L366.70 265.55L368.73 266.44L370.75 267.32L372.77 268.20L374.79 269.08L376.81 269.96L378.83 270.83L380.86 271.70L382.88 272.57L384.90 273.43L386.92 274.30L388.94 275.15L390.97 276.01L392.99 276.86L395.01 277.71L397.03 278.56L399.05 279.41L401.07 280.25L403.10 281.09L405.12 281.92L407.14 282.75L409.16 283.59L411.18 284.41L413.20 285.24L415.23 286.06L417.25 286.88L419.27 287.70L421.29 288.51L423.31 289.32L425.33 290.13L427.36 290.94L429.38 291.74L431.40 292.55L433.42 293.34L435.44 294.14L437.47 294.93L439.49 295.73L441.51 296.51L443.53 297.30L445.55 298.08L447.57 298.87L449.60 299.64L451.62 300.42L453.64 301.19L455.66 301.96L457.68 302.73L459.70 303.50L461.73 304.26L463.75 305.02L465.77 305.78L467.79 306.53L469.81 307.28L471.83 308.03L473.86 308.78L475.88 309.53L477.90 310.27L479.92 311.01L481.94 311.75L483.97 312.49L485.99 313.23L488.01 313.97L490.03 314.70L492.05 315.43L494.07 316.16L496.10 316.89L498.12 317.62L500.14 318.35L502.16 319.08L504.18 319.80L506.20 320.52L508.23 321.25L510.25 321.97L512.27 322.69L514.29 323.40L516.31 324.12L518.33 324.83L520.36 325.54L522.38 326.26L524.40 326.96L526.42 327.67L528.44 328.38L530.47 329.08L532.49 329.79L534.51 330.49L536.53 331.19L538.55 331.88L540.57 332.58L542.60 333.27L544.62 333.97L546.64 334.66L548.66 335.34L550.68 336.03L552.70 336.72L554.73 337.40L556.75 338.08L558.77 338.76L560.79 339.44L562.81 340.11L564.83 340.79L566.86 341.46L568.88 342.13L570.90 342.80L572.92 343.46L574.94 344.13L576.97 344.80L578.99 345.46L581.01 346.12L583.03 346.78L585.05 347.44L587.07 348.10L589.10 348.76L591.12 349.42L593.14 350.08L595.16 350.73L597.18 351.39L599.20 352.04L601.23 352.70L603.25 353.36L605.27 354.01L607.29 354.68L609.31 355.34L611.33 356.00L613.36 356.66L615.38 357.33L617.40 357.99L619.42 358.65L621.44 359.31L623.47 359.97L625.49 360.62L627.51 361.27L629.53 361.92L631.55 362.57L633.57 363.21L635.60 363.84L637.62 364.47L639.64 365.10L641.66 365.72L643.68 366.33L645.70 366.94L647.73 367.54L649.75 368.13L651.77 368.71L653.79 369.28L655.81 369.84L657.83 370.39L659.86 370.93L661.88 371.47L663.90 372.00" stroke="#000" stroke-width="2.3" fill="none"/>
<path d="M59.40 76.60L61.42 78.67L63.44 80.72L65.47 82.74L67.49 84.72L69.51 86.64L71.53 88.51L73.55 90.36L75.57 92.20L77.60 94.01L79.62 95.80L81.64 97.58L83.66 99.33L85.68 101.06L87.70 102.76L89.73 104.45L91.75 106.11L93.77 107.74L95.79 109.34L97.81 110.92L99.83 112.47L101.86 114.00L103.88 115.51L105.90 117.00L107.92 118.47L109.94 119.92L111.97 121.36L113.99 122.78L116.01 124.19L118.03 125.58L120.05 126.96L122.07 128.33L124.10 129.68L126.12 131.02L128.14 132.36L130.16 133.68L132.18 134.99L134.20 136.30L136.23 137.60L138.25 138.89L140.27 140.18L142.29 141.46L144.31 142.73L146.33 144.00L148.36 145.27L150.38 146.54L152.40 147.79L154.42 149.04L156.44 150.28L158.47 151.51L160.49 152.73L162.51 153.94L164.53 155.14L166.55 156.34L168.57 157.53L170.60 158.71L172.62 159.89L174.64 161.06L176.66 162.23L178.68 163.39L180.70 164.55L182.73 165.70L184.75 166.86L186.77 168.01L188.79 169.15L190.81 170.30L192.83 171.44L194.86 172.59L196.88 173.73L198.90 174.88L200.92 176.02L202.94 177.17L204.97 178.31L206.99 179.45L209.01 180.59L211.03 181.73L213.05 182.87L215.07 184.00L217.10 185.13L219.12 186.26L221.14 187.39L223.16 188.51L225.18 189.63L227.20 190.75L229.23 191.86L231.25 192.97L233.27 194.07L235.29 195.17L237.31 196.26L239.33 197.35L241.36 198.43L243.38 199.51L245.40 200.58L247.42 201.65L249.44 202.71L251.47 203.76L253.49 204.81L255.51 205.86L257.53 206.90L259.55 207.94L261.57 208.97L263.60 210.00L265.62 211.03L267.64 212.05L269.66 213.07L271.68 214.08L273.70 215.09L275.73 216.09L277.75 217.09L279.77 218.09L281.79 219.08L283.81 220.07L285.83 221.05L287.86 222.03L289.88 223.00L291.90 223.97L293.92 224.93L295.94 225.89L297.97 226.84L299.99 227.79L302.01 228.74L304.03 229.68L306.05 230.61L308.07 231.55L310.10 232.47L312.12 233.40L314.14 234.31L316.16 235.23L318.18 236.14L320.20 237.04L322.23 237.95L324.25 238.84L326.27 239.74L328.29 240.63L330.31 241.52L332.33 242.40L334.36 243.28L336.38 244.16L338.40 245.04L340.42 245.91L342.44 246.78L344.47 247.64L346.49 248.51L348.51 249.37L350.53 250.22L352.55 251.08L354.57 251.93L356.60 252.78L358.62 253.63L360.64 254.47L362.66 255.32L364.68 256.15L366.70 256.99L368.73 257.82L370.75 258.65L372.77 259.48L374.79 260.30L376.81 261.12L378.83 261.94L380.86 262.76L382.88 263.57L384.90 264.37L386.92 265.18L388.94 265.98L390.97 266.78L392.99 267.57L395.01 268.36L397.03 269.15L399.05 269.93L401.07 270.71L403.10 271.49L405.12 272.27L407.14 273.04L409.16 273.80L411.18 274.57L413.20 275.33L415.23 276.09L417.25 276.84L419.27 277.59L421.29 278.34L423.31 279.09L425.33 279.83L427.36 280.57L429.38 281.31L431.40 282.05L433.42 282.78L435.44 283.51L437.47 284.24L439.49 284.97L441.51 285.69L443.53 286.41L445.55 287.13L447.57 287.84L449.60 288.56L451.62 289.27L453.64 289.98L455.66 290.68L457.68 291.39L459.70 292.09L461.73 292.78L463.75 293.48L465.77 294.17L467.79 294.86L469.81 295.55L471.83 296.24L473.86 296.92L475.88 297.60L477.90 298.28L479.92 298.96L481.94 299.63L483.97 300.31L485.99 300.98L488.01 301.65L490.03 302.32L492.05 302.99L494.07 303.65L496.10 304.32L498.12 304.98L500.14 305.65L502.16 306.31L504.18 306.97L506.20 307.63L508.23 308.28L510.25 308.94L512.27 309.60L514.29 310.25L516.31 310.90L518.33 311.55L520.36 312.20L522.38 312.85L524.40 313.49L526.42 314.13L528.44 314.78L530.47 315.42L532.49 316.05L534.51 316.69L536.53 317.32L538.55 317.96L540.57 318.59L542.60 319.22L544.62 319.84L546.64 320.47L548.66 321.09L550.68 321.71L552.70 322.33L554.73 322.95L556.75 323.56L558.77 324.18L560.79 324.79L562.81 325.40L564.83 326.01L566.86 326.62L568.88 327.23L570.90 327.84L572.92 328.44L574.94 329.04L576.97 329.64L578.99 330.24L581.01 330.83L583.03 331.43L585.05 332.02L587.07 332.60L589.10 333.19L591.12 333.77L593.14 334.35L595.16 334.93L597.18 335.50L599.20 336.08L601.23 336.64L603.25 337.21L605.27 337.78L607.29 338.34L609.31 338.90L611.33 339.47L613.36 340.02L615.38 340.58L617.40 341.14L619.42 341.69L621.44 342.24L623.47 342.79L625.49 343.33L627.51 343.88L629.53 344.42L631.55 344.95L633.57 345.49L635.60 346.02L637.62 346.55L639.64 347.07L641.66 347.59L643.68 348.11L645.70 348.62L647.73 349.13L649.75 349.64L651.77 350.14L653.79 350.63L655.81 351.11L657.83 351.59L659.86 352.06L661.88 352.53L663.90 353.00" stroke="#f00" stroke-width="2.6" stroke-dasharray="2.9 2.57" fill="none"/>
<path d="M59.40 88.80L61.42 90.73L63.44 92.65L65.47 94.54L67.49 96.42L69.51 98.26L71.53 100.07L73.55 101.88L75.57 103.68L77.60 105.48L79.62 107.26L81.64 109.03L83.66 110.79L85.68 112.53L87.70 114.25L89.73 115.95L91.75 117.63L93.77 119.28L95.79 120.91L97.81 122.51L99.83 124.07L101.86 125.61L103.88 127.13L105.90 128.63L107.92 130.12L109.94 131.59L111.97 133.04L113.99 134.48L116.01 135.90L118.03 137.32L120.05 138.71L122.07 140.10L124.10 141.47L126.12 142.84L128.14 144.19L130.16 145.54L132.18 146.87L134.20 148.20L136.23 149.52L138.25 150.84L140.27 152.15L142.29 153.46L144.31 154.76L146.33 156.05L148.36 157.35L150.38 158.64L152.40 159.93L154.42 161.20L156.44 162.47L158.47 163.72L160.49 164.97L162.51 166.21L164.53 167.44L166.55 168.66L168.57 169.88L170.60 171.09L172.62 172.30L174.64 173.50L176.66 174.70L178.68 175.89L180.70 177.08L182.73 178.27L184.75 179.46L186.77 180.64L188.79 181.83L190.81 183.01L192.83 184.19L194.86 185.38L196.88 186.56L198.90 187.75L200.92 188.94L202.94 190.13L204.97 191.32L206.99 192.51L209.01 193.70L211.03 194.89L213.05 196.08L215.07 197.27L217.10 198.45L219.12 199.64L221.14 200.82L223.16 202.00L225.18 203.17L227.20 204.35L229.23 205.52L231.25 206.68L233.27 207.85L235.29 209.01L237.31 210.16L239.33 211.31L241.36 212.46L243.38 213.60L245.40 214.74L247.42 215.87L249.44 216.99L251.47 218.11L253.49 219.23L255.51 220.34L257.53 221.44L259.55 222.55L261.57 223.65L263.60 224.74L265.62 225.84L267.64 226.93L269.66 228.01L271.68 229.09L273.70 230.17L275.73 231.25L277.75 232.32L279.77 233.39L281.79 234.45L283.81 235.51L285.83 236.57L287.86 237.63L289.88 238.68L291.90 239.73L293.92 240.77L295.94 241.82L297.97 242.86L299.99 243.89L302.01 244.93L304.03 245.96L306.05 246.99L308.07 248.01L310.10 249.03L312.12 250.05L314.14 251.06L316.16 252.07L318.18 253.08L320.20 254.09L322.23 255.09L324.25 256.09L326.27 257.09L328.29 258.08L330.31 259.07L332.33 260.06L334.36 261.05L336.38 262.03L338.40 263.01L340.42 263.99L342.44 264.97L344.47 265.94L346.49 266.92L348.51 267.89L350.53 268.85L352.55 269.82L354.57 270.78L356.60 271.74L358.62 272.70L360.64 273.66L362.66 274.61L364.68 275.56L366.70 276.51L368.73 277.45L370.75 278.40L372.77 279.34L374.79 280.28L376.81 281.21L378.83 282.15L380.86 283.08L382.88 284.01L384.90 284.94L386.92 285.86L388.94 286.79L390.97 287.71L392.99 288.63L395.01 289.54L397.03 290.46L399.05 291.37L401.07 292.28L403.10 293.19L405.12 294.10L407.14 295.01L409.16 295.91L411.18 296.81L413.20 297.71L415.23 298.61L417.25 299.51L419.27 300.40L421.29 301.30L423.31 302.19L425.33 303.07L427.36 303.96L429.38 304.84L431.40 305.72L433.42 306.60L435.44 307.48L437.47 308.35L439.49 309.22L441.51 310.09L443.53 310.95L445.55 311.81L447.57 312.67L449.60 313.53L451.62 314.38L453.64 315.23L455.66 316.08L457.68 316.93L459.70 317.77L461.73 318.61L463.75 319.44L465.77 320.28L467.79 321.11L469.81 321.94L471.83 322.77L473.86 323.60L475.88 324.42L477.90 325.24L479.92 326.06L481.94 326.88L483.97 327.69L485.99 328.51L488.01 329.32L490.03 330.13L492.05 330.94L494.07 331.74L496.10 332.55L498.12 333.35L500.14 334.16L502.16 334.96L504.18 335.75L506.20 336.55L508.23 337.34L510.25 338.13L512.27 338.92L514.29 339.71L516.31 340.49L518.33 341.27L520.36 342.05L522.38 342.83L524.40 343.61L526.42 344.39L528.44 345.16L530.47 345.94L532.49 346.71L534.51 347.49L536.53 348.26L538.55 349.03L540.57 349.80L542.60 350.57L544.62 351.35L546.64 352.12L548.66 352.89L550.68 353.66L552.70 354.43L554.73 355.20L556.75 355.97L558.77 356.74L560.79 357.50L562.81 358.27L564.83 359.03L566.86 359.80L568.88 360.56L570.90 361.32L572.92 362.09L574.94 362.85L576.97 363.61L578.99 364.37L581.01 365.13L583.03 365.89L585.05 366.65L587.07 367.42L589.10 368.18L591.12 368.94L593.14 369.70L595.16 370.47L597.18 371.23L599.20 372.00L601.23 372.77L603.25 373.55L605.27 374.34L607.29 375.14L609.31 375.94L611.33 376.75L613.36 377.57L615.38 378.39L617.40 379.21L619.42 380.03L621.44 380.85L623.47 381.66L625.49 382.47L627.51 383.27L629.53 384.07L631.55 384.85L633.57 385.62L635.60 386.39L637.62 387.13L639.64 387.86L641.66 388.58L643.68 389.27L645.70 389.94L647.73 390.60L649.75 391.22L651.77 391.83L653.79 392.40L655.81 392.95L657.83 393.49L659.86 394.00L661.88 394.51L663.90 395.00" stroke="#00f" stroke-width="2.3" stroke-dasharray="6.05 4.22" fill="none"/>
<path d="M67.46 31.00L67.46 36.00M67.46 392.50L67.46 402.50M67.46 541.50L67.46 536.50M83.58 31.00L83.58 36.00M83.58 392.50L83.58 402.50M83.58 541.50L83.58 536.50M99.70 31.00L99.70 41.00M99.70 387.50L99.70 407.50M99.70 541.50L99.70 531.50M115.82 31.00L115.82 36.00M115.82 392.50L115.82 402.50M115.82 541.50L115.82 536.50M131.94 31.00L131.94 36.00M131.94 392.50L131.94 402.50M131.94 541.50L131.94 536.50M148.06 31.00L148.06 36.00M148.06 392.50L148.06 402.50M148.06 541.50L148.06 536.50M164.18 31.00L164.18 36.00M164.18 392.50L164.18 402.50M164.18 541.50L164.18 536.50M180.30 31.00L180.30 41.00M180.30 387.50L180.30 407.50M180.30 541.50L180.30 531.50M196.42 31.00L196.42 36.00M196.42 392.50L196.42 402.50M196.42 541.50L196.42 536.50M212.54 31.00L212.54 36.00M212.54 392.50L212.54 402.50M212.54 541.50L212.54 536.50M228.66 31.00L228.66 36.00M228.66 392.50L228.66 402.50M228.66 541.50L228.66 536.50M244.78 31.00L244.78 36.00M244.78 392.50L244.78 402.50M244.78 541.50L244.78 536.50M260.90 31.00L260.90 41.00M260.90 387.50L260.90 407.50M260.90 541.50L260.90 531.50M277.02 31.00L277.02 36.00M277.02 392.50L277.02 402.50M277.02 541.50L277.02 536.50M293.14 31.00L293.14 36.00M293.14 392.50L293.14 402.50M293.14 541.50L293.14 536.50M309.26 31.00L309.26 36.00M309.26 392.50L309.26 402.50M309.26 541.50L309.26 536.50M325.38 31.00L325.38 36.00M325.38 392.50L325.38 402.50M325.38 541.50L325.38 536.50M341.50 31.00L341.50 41.00M341.50 387.50L341.50 407.50M341.50 541.50L341.50 531.50M357.62 31.00L357.62 36.00M357.62 392.50L357.62 402.50M357.62 541.50L357.62 536.50M373.74 31.00L373.74 36.00M373.74 392.50L373.74 402.50M373.74 541.50L373.74 536.50M389.86 31.00L389.86 36.00M389.86 392.50L389.86 402.50M389.86 541.50L389.86 536.50M405.98 31.00L405.98 36.00M405.98 392.50L405.98 402.50M405.98 541.50L405.98 536.50M422.10 31.00L422.10 41.00M422.10 387.50L422.10 407.50M422.10 541.50L422.10 531.50M438.22 31.00L438.22 36.00M438.22 392.50L438.22 402.50M438.22 541.50L438.22 536.50M454.34 31.00L454.34 36.00M454.34 392.50L454.34 402.50M454.34 541.50L454.34 536.50M470.46 31.00L470.46 36.00M470.46 392.50L470.46 402.50M470.46 541.50L470.46 536.50M486.58 31.00L486.58 36.00M486.58 392.50L486.58 402.50M486.58 541.50L486.58 536.50M502.70 31.00L502.70 41.00M502.70 387.50L502.70 407.50M502.70 541.50L502.70 531.50M518.82 31.00L518.82 36.00M518.82 392.50L518.82 402.50M518.82 541.50L518.82 536.50M534.94 31.00L534.94 36.00M534.94 392.50L534.94 402.50M534.94 541.50L534.94 536.50M551.06 31.00L551.06 36.00M551.06 392.50L551.06 402.50M551.06 541.50L551.06 536.50M567.18 31.00L567.18 36.00M567.18 392.50L567.18 402.50M567.18 541.50L567.18 536.50M583.30 31.00L583.30 41.00M583.30 387.50L583.30 407.50M583.30 541.50L583.30 531.50M599.42 31.00L599.42 36.00M599.42 392.50L599.42 402.50M599.42 541.50L599.42 536.50M615.54 31.00L615.54 36.00M615.54 392.50L615.54 402.50M615.54 541.50L615.54 536.50M631.66 31.00L631.66 36.00M631.66 392.50L631.66 402.50M631.66 541.50L631.66 536.50M647.78 31.00L647.78 36.00M647.78 392.50L647.78 402.50M647.78 541.50L647.78 536.50M59.40 92.08L69.40 92.08M663.90 92.08L653.90 92.08M59.40 73.70L64.40 73.70M663.90 73.70L658.90 73.70M59.40 62.94L64.40 62.94M663.90 62.94L658.90 62.94M59.40 55.31L64.40 55.31M663.90 55.31L658.90 55.31M59.40 49.39L64.40 49.39M663.90 49.39L658.90 49.39M59.40 44.55L64.40 44.55M663.90 44.55L658.90 44.55M59.40 40.46L64.40 40.46M663.90 40.46L658.90 40.46M59.40 36.92L64.40 36.92M663.90 36.92L658.90 36.92M59.40 33.80L64.40 33.80M663.90 33.80L658.90 33.80M59.40 153.17L69.40 153.17M663.90 153.17L653.90 153.17M59.40 134.78L64.40 134.78M663.90 134.78L658.90 134.78M59.40 124.02L64.40 124.02M663.90 124.02L658.90 124.02M59.40 116.39L64.40 116.39M663.90 116.39L658.90 116.39M59.40 110.47L64.40 110.47M663.90 110.47L658.90 110.47M59.40 105.63L64.40 105.63M663.90 105.63L658.90 105.63M59.40 101.55L64.40 101.55M663.90 101.55L658.90 101.55M59.40 98.00L64.40 98.00M663.90 98.00L658.90 98.00M59.40 94.88L64.40 94.88M663.90 94.88L658.90 94.88M59.40 214.25L69.40 214.25M663.90 214.25L653.90 214.25M59.40 195.86L64.40 195.86M663.90 195.86L658.90 195.86M59.40 185.11L64.40 185.11M663.90 185.11L658.90 185.11M59.40 177.47L64.40 177.47M663.90 177.47L658.90 177.47M59.40 171.55L64.40 171.55M663.90 171.55L658.90 171.55M59.40 166.72L64.40 166.72M663.90 166.72L658.90 166.72M59.40 162.63L64.40 162.63M663.90 162.63L658.90 162.63M59.40 159.09L64.40 159.09M663.90 159.09L658.90 159.09M59.40 155.96L64.40 155.96M663.90 155.96L658.90 155.96M59.40 275.33L69.40 275.33M663.90 275.33L653.90 275.33M59.40 256.95L64.40 256.95M663.90 256.95L658.90 256.95M59.40 246.19L64.40 246.19M663.90 246.19L658.90 246.19M59.40 238.56L64.40 238.56M663.90 238.56L658.90 238.56M59.40 232.64L64.40 232.64M663.90 232.64L658.90 232.64M59.40 227.80L64.40 227.80M663.90 227.80L658.90 227.80M59.40 223.71L64.40 223.71M663.90 223.71L658.90 223.71M59.40 220.17L64.40 220.17M663.90 220.17L658.90 220.17M59.40 217.05L64.40 217.05M663.90 217.05L658.90 217.05M59.40 336.42L69.40 336.42M663.90 336.42L653.90 336.42M59.40 318.03L64.40 318.03M663.90 318.03L658.90 318.03M59.40 307.27L64.40 307.27M663.90 307.27L658.90 307.27M59.40 299.64L64.40 299.64M663.90 299.64L658.90 299.64M59.40 293.72L64.40 293.72M663.90 293.72L658.90 293.72M59.40 288.88L64.40 288.88M663.90 288.88L658.90 288.88M59.40 284.80L64.40 284.80M663.90 284.80L658.90 284.80M59.40 281.25L64.40 281.25M663.90 281.25L658.90 281.25M59.40 278.13L64.40 278.13M663.90 278.13L658.90 278.13M59.40 379.11L64.40 379.11M663.90 379.11L658.90 379.11M59.40 368.36L64.40 368.36M663.90 368.36L658.90 368.36M59.40 360.72L64.40 360.72M663.90 360.72L658.90 360.72M59.40 354.80L64.40 354.80M663.90 354.80L658.90 354.80M59.40 349.97L64.40 349.97M663.90 349.97L658.90 349.97M59.40 345.88L64.40 345.88M663.90 345.88L658.90 345.88M59.40 342.34L64.40 342.34M663.90 342.34L658.90 342.34M59.40 339.21L64.40 339.21M663.90 339.21L658.90 339.21M59.40 403.50L69.40 403.50M663.90 403.50L653.90 403.50M59.40 411.00L64.40 411.00M663.90 411.00L658.90 411.00M59.40 418.50L64.40 418.50M663.90 418.50L658.90 418.50M59.40 426.00L64.40 426.00M663.90 426.00L658.90 426.00M59.40 433.50L69.40 433.50M663.90 433.50L653.90 433.50M59.40 441.00L64.40 441.00M663.90 441.00L658.90 441.00M59.40 448.50L64.40 448.50M663.90 448.50L658.90 448.50M59.40 456.00L64.40 456.00M663.90 456.00L658.90 456.00M59.40 463.50L69.40 463.50M663.90 463.50L653.90 463.50M59.40 471.00L64.40 471.00M663.90 471.00L658.90 471.00M59.40 478.50L64.40 478.50M663.90 478.50L658.90 478.50M59.40 486.00L64.40 486.00M663.90 486.00L658.90 486.00M59.40 493.50L69.40 493.50M663.90 493.50L653.90 493.50M59.40 501.00L64.40 501.00M663.90 501.00L658.90 501.00M59.40 508.50L64.40 508.50M663.90 508.50L658.90 508.50M59.40 516.00L64.40 516.00M663.90 516.00L658.90 516.00M59.40 523.50L69.40 523.50M663.90 523.50L653.90 523.50M59.40 531.00L64.40 531.00M663.90 531.00L658.90 531.00M59.40 538.50L64.40 538.50M663.90 538.50L658.90 538.50" stroke="#000" stroke-width="1.5" fill="none"/>
<rect x="59.4" y="31.0" width="604.50" height="510.50" stroke="#000" stroke-width="1.6" fill="none"/>
<path d="M59.4 397.5H663.9" stroke="#000" stroke-width="1.6"/>
<path d="M535.2 49.7H570.9" stroke="#000" stroke-width="2.3"/>
<path d="M535.2 66.6H570.9" stroke="#f00" stroke-width="2.6" stroke-dasharray="2.9 2.57"/>
<path d="M535.2 83.1H570.9" stroke="#00f" stroke-width="2.3" stroke-dasharray="6.05 4.22"/>
<text transform="translate(59.01 18.70) scale(1 1.040)" font-size="25.97" xml:space="preserve">dσ/dp</text>
<text transform="translate(125.59 24.40) scale(1 1.040)" font-size="18.04" xml:space="preserve">T</text>
<text transform="translate(137.02 18.70) scale(1 1.040)" font-size="23.89" xml:space="preserve">(H)</text>
<text transform="translate(184.64 18.70) scale(1 1.040)" font-size="26.02" xml:space="preserve">[pb/GeV]</text>
<text transform="translate(291.92 611.00) scale(1 1.040)" font-size="26.00" xml:space="preserve">p</text>
<text transform="translate(307.03 617.00) scale(1 1.040)" font-size="16.27" xml:space="preserve">T</text>
<text transform="translate(316.57 611.00) scale(1 1.040)" font-size="24.68" xml:space="preserve">(H)</text>
<text transform="translate(357.74 611.00) scale(1 1.040)" font-size="26.14" xml:space="preserve">[GeV]</text>
<text transform="translate(83.36 61.40) scale(1 1.040)" font-size="22.45" xml:space="preserve">ggH@LHC  3 TeV</text>
<path transform="translate(198.50 61.40) scale(0.02245 -0.02335)" d="M370 0L280 0L280 492L100 492L100 546C205 556 262 590 288 672L370 672Z"/>
<text transform="translate(283.83 61.40) scale(1 1.040)" font-size="22.84" xml:space="preserve">LO H<tspan dy="1.94">+</tspan><tspan dy="-1.94">j</tspan></text>
<text transform="translate(83.16 90.50) scale(1 1.040)" font-size="23.62" xml:space="preserve">M</text>
<text transform="translate(102.22 95.60) scale(1 1.040)" font-size="17.00" xml:space="preserve">h</text>
<path transform="translate(112.61 90.40) scale(0.02238 -0.02327)" d="M49 92H535V172H49ZM49 300H535V380H49Z"/>
<text transform="translate(125.67 90.40) scale(1 1.040)" font-size="22.38" xml:space="preserve"> 25 GeV</text>
<path transform="translate(125.67 90.40) scale(0.02238 -0.02327)" d="M370 0L280 0L280 492L100 492L100 546C205 556 262 590 288 672L370 672Z"/>
<text transform="translate(579.37 55.50) scale(1 0.970)" font-size="16.10" xml:space="preserve">SM</text>
<text transform="translate(579.44 72.00) scale(1 1.000)" font-size="15.50" xml:space="preserve">c</text>
<text transform="translate(588.13 75.60) scale(1 0.970)" font-size="11.53" xml:space="preserve">tg</text>
<path transform="translate(597.54 72.00) scale(0.01550 -0.01503)" d="M49 92H535V172H49ZM49 300H535V380H49Z"/>
<text transform="translate(606.59 72.00) scale(1 0.970)" font-size="15.50" xml:space="preserve">0.04</text>
<text transform="translate(579.44 88.90) scale(1 1.000)" font-size="15.50" xml:space="preserve">c</text>
<text transform="translate(588.13 92.50) scale(1 0.970)" font-size="11.53" xml:space="preserve">tg</text>
<path transform="translate(597.54 88.90) scale(0.01565 -0.01518)" d="M49 92H535V172H49ZM49 300H535V380H49Z"/>
<text transform="translate(606.68 88.90) scale(1 0.970)" font-size="15.65" xml:space="preserve">-0.04</text>
<text transform="translate(4.28 38.80) scale(1 1.040)" font-size="26.00" xml:space="preserve"> 0</text>
<path transform="translate(4.28 38.80) scale(0.02600 -0.02704)" d="M370 0L280 0L280 492L100 492L100 546C205 556 262 590 288 672L370 672Z"/>
<text transform="translate(33.20 29.20) scale(1 1.040)" font-size="20.50" xml:space="preserve">0</text>
<text transform="translate(-2.55 99.88) scale(1 1.040)" font-size="26.00" xml:space="preserve"> 0</text>
<path transform="translate(-2.55 99.88) scale(0.02600 -0.02704)" d="M370 0L280 0L280 492L100 492L100 546C205 556 262 590 288 672L370 672Z"/>
<text transform="translate(26.37 90.28) scale(1 1.040)" font-size="20.50" xml:space="preserve">- </text>
<path transform="translate(33.20 90.28) scale(0.02050 -0.02132)" d="M370 0L280 0L280 492L100 492L100 546C205 556 262 590 288 672L370 672Z"/>
<text transform="translate(-2.55 160.97) scale(1 1.040)" font-size="26.00" xml:space="preserve"> 0</text>
<path transform="translate(-2.55 160.97) scale(0.02600 -0.02704)" d="M370 0L280 0L280 492L100 492L100 546C205 556 262 590 288 672L370 672Z"/>
<text transform="translate(26.37 151.37) scale(1 1.040)" font-size="20.50" xml:space="preserve">-2</text>
<text transform="translate(-2.55 222.05) scale(1 1.040)" font-size="26.00" xml:space="preserve"> 0</text>
<path transform="translate(-2.55 222.05) scale(0.02600 -0.02704)" d="M370 0L280 0L280 492L100 492L100 546C205 556 262 590 288 672L370 672Z"/>
<text transform="translate(26.37 212.45) scale(1 1.040)" font-size="20.50" xml:space="preserve">-3</text>
<text transform="translate(-2.55 283.13) scale(1 1.040)" font-size="26.00" xml:space="preserve"> 0</text>
<path transform="translate(-2.55 283.13) scale(0.02600 -0.02704)" d="M370 0L280 0L280 492L100 492L100 546C205 556 262 590 288 672L370 672Z"/>
<text transform="translate(26.37 273.53) scale(1 1.040)" font-size="20.50" xml:space="preserve">-4</text>
<text transform="translate(-2.55 344.22) scale(1 1.040)" font-size="26.00" xml:space="preserve"> 0</text>
<path transform="translate(-2.55 344.22) scale(0.02600 -0.02704)" d="M370 0L280 0L280 492L100 492L100 546C205 556 262 590 288 672L370 672Z"/>
<text transform="translate(26.37 334.62) scale(1 1.040)" font-size="20.50" xml:space="preserve">-5</text>
<text transform="translate(-2.55 405.30) scale(1 1.040)" font-size="26.00" xml:space="preserve"> 0</text>
<path transform="translate(-2.55 405.30) scale(0.02600 -0.02704)" d="M370 0L280 0L280 492L100 492L100 546C205 556 262 590 288 672L370 672Z"/>
<text transform="translate(26.37 395.70) scale(1 1.040)" font-size="20.50" xml:space="preserve">-6</text>
<text transform="translate(24.32 414.70) scale(1 1.040)" font-size="19.20" xml:space="preserve">2.5</text>
<text transform="translate(40.49 444.70) scale(1 1.040)" font-size="19.20" xml:space="preserve">2</text>
<text transform="translate(24.32 474.70) scale(1 1.040)" font-size="19.20" xml:space="preserve"> .5</text>
<path transform="translate(24.32 474.70) scale(0.01920 -0.01997)" d="M370 0L280 0L280 492L100 492L100 546C205 556 262 590 288 672L370 672Z"/>
<text transform="translate(40.46 504.70) scale(1 1.040)" font-size="19.20" xml:space="preserve"> </text>
<path transform="translate(40.46 504.70) scale(0.01920 -0.01997)" d="M370 0L280 0L280 492L100 492L100 546C205 556 262 590 288 672L370 672Z"/>
<text transform="translate(24.32 534.70) scale(1 1.040)" font-size="19.20" xml:space="preserve">0.5</text>
<text transform="translate(77.93 570.70) scale(1 1.040)" font-size="26.00" xml:space="preserve"> 00</text>
<path transform="translate(77.93 570.70) scale(0.02600 -0.02704)" d="M370 0L280 0L280 492L100 492L100 546C205 556 262 590 288 672L370 672Z"/>
<text transform="translate(158.86 570.70) scale(1 1.040)" font-size="26.00" xml:space="preserve">200</text>
<text transform="translate(239.62 570.70) scale(1 1.040)" font-size="26.00" xml:space="preserve">300</text>
<text transform="translate(320.42 570.70) scale(1 1.040)" font-size="26.00" xml:space="preserve">400</text>
<text transform="translate(400.80 570.70) scale(1 1.040)" font-size="26.00" xml:space="preserve">500</text>
<text transform="translate(481.26 570.70) scale(1 1.040)" font-size="26.00" xml:space="preserve">600</text>
<text transform="translate(561.85 570.70) scale(1 1.040)" font-size="26.00" xml:space="preserve">700</text>
<text transform="translate(642.55 570.70) scale(1 1.040)" font-size="26.00" xml:space="preserve">800</text>
</svg></body></html>
